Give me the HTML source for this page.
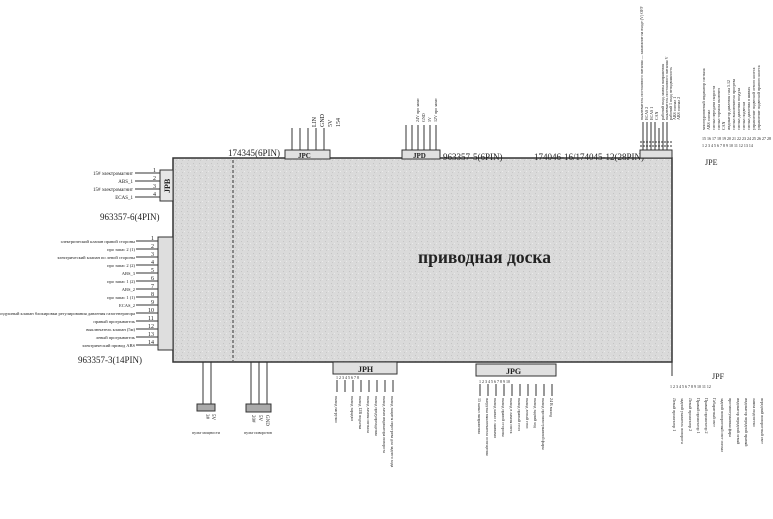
<!DOCTYPE html>
<html><head><meta charset="utf-8"><style>
html,body{margin:0;padding:0;background:#fff;width:773px;height:519px;overflow:hidden}
svg text{font-family:"Liberation Serif",serif;fill:#222}
</style></head><body>
<svg width="773" height="519" viewBox="0 0 773 519" xmlns="http://www.w3.org/2000/svg">
<defs>
<pattern id="p" width="6" height="6" patternUnits="userSpaceOnUse"><rect width="6" height="6" fill="#dadada"/><rect x="1" y="1" width="1" height="1" fill="#c4c4c4"/><rect x="4" y="3" width="1" height="1" fill="#eaeaea"/><rect x="2" y="4" width="1" height="1" fill="#c8c8c8"/></pattern>
</defs>
<!-- board -->
<rect x="173" y="158" width="499" height="204" fill="url(#p)" stroke="#333" stroke-width="1.5"/>
<line x1="233" y1="160" x2="233" y2="361" stroke="#333" stroke-dasharray="3,2"/>
<line x1="672" y1="362" x2="672" y2="376" stroke="#333"/>
<text x="418" y="263" font-size="17.5" font-weight="bold">приводная доска</text>

<!-- JPB -->
<rect x="160" y="170" width="13" height="31" fill="#e6e6e6" stroke="#333"/>
<text x="170" y="193" font-size="8" transform="rotate(-90 170 193)" font-weight="bold">JPB</text>
<g stroke="#333"><line x1="135" y1="173" x2="160" y2="173"/><line x1="135" y1="181" x2="160" y2="181"/><line x1="135" y1="189" x2="160" y2="189"/><line x1="135" y1="197" x2="160" y2="197"/></g>
<g font-size="5" text-anchor="end">
<text x="133" y="175">15# электромагнит</text><text x="133" y="183">ABS_1</text><text x="133" y="191">15# электромагнит</text><text x="133" y="199">ECAS_1</text></g>
<g font-size="6"><text x="153" y="172">1</text><text x="153" y="180">2</text><text x="153" y="188">3</text><text x="153" y="196">4</text></g>
<text x="100" y="220" font-size="9">963357-6(4PIN)</text>

<!-- 14 pin -->
<rect x="158" y="237" width="15" height="113" fill="#dedede" stroke="#333"/>
<g stroke="#333">
<line x1="136" y1="241" x2="158" y2="241"/><line x1="136" y1="249" x2="158" y2="249"/><line x1="136" y1="257" x2="158" y2="257"/><line x1="136" y1="265" x2="158" y2="265"/><line x1="136" y1="273" x2="158" y2="273"/><line x1="136" y1="281" x2="158" y2="281"/><line x1="136" y1="289" x2="158" y2="289"/><line x1="136" y1="297" x2="158" y2="297"/><line x1="136" y1="305" x2="158" y2="305"/><line x1="136" y1="313" x2="158" y2="313"/><line x1="136" y1="321" x2="158" y2="321"/><line x1="136" y1="329" x2="158" y2="329"/><line x1="136" y1="337" x2="158" y2="337"/><line x1="136" y1="345" x2="158" y2="345"/></g>
<g font-size="4.5" text-anchor="end">
<text x="135" y="243">электрический клапан правой стороны</text><text x="135" y="251">про запас 2 (1)</text><text x="135" y="259">электрический клапан по левой стороны</text><text x="135" y="267">про запас 2 (2)</text><text x="135" y="275">ABS_3</text><text x="135" y="283">про запас 1 (2)</text><text x="135" y="291">ABS_2</text><text x="135" y="299">про запас 1 (1)</text><text x="135" y="307">ECAS_2</text><text x="135" y="315">воздушный клапан блокировки регулирования давления газогенератора</text><text x="135" y="323">правый прогрыватель</text><text x="135" y="331">выключатель клапан (5м)</text><text x="135" y="339">левый прогрыватель</text><text x="135" y="347">электрический привод ABS</text></g>
<g font-size="6"><text x="151" y="240">1</text><text x="151" y="248">2</text><text x="151" y="256">3</text><text x="151" y="264">4</text><text x="151" y="272">5</text><text x="151" y="280">6</text><text x="151" y="288">7</text><text x="151" y="296">8</text><text x="151" y="304">9</text><text x="148" y="312">10</text><text x="148" y="320">11</text><text x="148" y="328">12</text><text x="148" y="336">13</text><text x="148" y="344">14</text></g>
<text x="78" y="363" font-size="9">963357-3(14PIN)</text>

<!-- JPC -->
<rect x="285" y="150" width="45" height="9" fill="#e0e0e0" stroke="#333"/>
<text x="298" y="158" font-size="7" font-weight="bold">JPC</text>
<text x="228" y="156" font-size="9">174345(6PIN)</text>
<g stroke="#333"><line x1="292" y1="128" x2="292" y2="150"/><line x1="300" y1="128" x2="300" y2="150"/><line x1="308" y1="128" x2="308" y2="150"/><line x1="316" y1="128" x2="316" y2="150"/><line x1="324" y1="128" x2="324" y2="150"/></g>
<g font-size="6"><text x="316" y="127" transform="rotate(-90 316 127)">LIN</text><text x="324" y="127" transform="rotate(-90 324 127)">GND</text><text x="332" y="127" transform="rotate(-90 332 127)">5V</text><text x="340" y="127" transform="rotate(-90 340 127)">154</text></g>

<!-- JPD -->
<rect x="402" y="150" width="38" height="9" fill="#e0e0e0" stroke="#333"/>
<text x="413" y="158" font-size="7" font-weight="bold">JPD</text>
<text x="443" y="160" font-size="9">963357-5(6PIN)</text>
<text x="534" y="160" font-size="9">174046-16/174045-12(28PIN)</text>
<g stroke="#333"><line x1="406" y1="125" x2="406" y2="150"/><line x1="412" y1="125" x2="412" y2="150"/><line x1="418" y1="125" x2="418" y2="150"/><line x1="424" y1="125" x2="424" y2="150"/><line x1="430" y1="125" x2="430" y2="150"/><line x1="436" y1="125" x2="436" y2="150"/></g>
<g font-size="4"><text x="419" y="122" transform="rotate(-90 419 122)">24V про запас</text><text x="425" y="122" transform="rotate(-90 425 122)">GND</text><text x="431" y="122" transform="rotate(-90 431 122)">5V</text><text x="437" y="122" transform="rotate(-90 437 122)">12V про запас</text></g>

<!-- JPE -->
<rect x="640" y="150" width="32" height="8" fill="#e0e0e0" stroke="#333"/>
<text x="705" y="165" font-size="8">JPE</text>
<g stroke="#333"><line x1="643" y1="122" x2="643" y2="150"/><line x1="647" y1="122" x2="647" y2="150"/><line x1="651" y1="122" x2="651" y2="150"/><line x1="655" y1="122" x2="655" y2="150"/><line x1="659" y1="128" x2="659" y2="150"/><line x1="663" y1="122" x2="663" y2="150"/><line x1="667" y1="122" x2="667" y2="150"/><line x1="640" y1="142" x2="672" y2="142" stroke-dasharray="2,1"/><line x1="640" y1="146" x2="672" y2="146" stroke-dasharray="2,1"/></g>
<g font-size="4"><text x="643" y="120" transform="rotate(-90 643 120)">выключатель постоянного питания — зажигание на входе (V) OFF</text><text x="648" y="120" transform="rotate(-90 648 120)">ECAS 2</text><text x="653" y="120" transform="rotate(-90 653 120)">ECAS 1</text><text x="658" y="120" transform="rotate(-90 658 120)">CAN</text><text x="664" y="120" transform="rotate(-90 664 120)">рабочий вход лампы напряжения</text><text x="668" y="120" transform="rotate(-90 668 120)">выключатель постоянного питания V</text><text x="672" y="120" transform="rotate(-90 672 120)">рабочий 1 вход неподвижность</text><text x="676" y="120" transform="rotate(-90 676 120)">ABS сигнал 1</text><text x="680" y="120" transform="rotate(-90 680 120)">ABS сигнал 2</text></g>
<g font-size="4"><text x="705" y="130" transform="rotate(-90 705 130)">многоуровневый индикатор сигнала</text><text x="710" y="130" transform="rotate(-90 710 130)">ABS сигнал</text><text x="715" y="130" transform="rotate(-90 715 130)">сигнал передачи скорости</text><text x="720" y="130" transform="rotate(-90 720 130)">сигнал тормоза включен</text><text x="725" y="130" transform="rotate(-90 725 130)">CAN</text><text x="730" y="130" transform="rotate(-90 730 130)">индикатор давления газа 5.12</text><text x="735" y="130" transform="rotate(-90 735 130)">сигнал выключателя прогрева</text><text x="740" y="130" transform="rotate(-90 740 130)">сигнал давления воздуха</text><text x="745" y="130" transform="rotate(-90 745 130)">сигнал подвески</text><text x="750" y="130" transform="rotate(-90 750 130)">сигнал давления в шинах</text><text x="755" y="130" transform="rotate(-90 755 130)">управление подвеской левого колеса</text><text x="760" y="130" transform="rotate(-90 760 130)">управление подвеской правого колеса</text></g>
<g font-size="4"><text x="702" y="147">1 2 3 4 5 6 7 8 9 10 11 12 13 14</text><text x="702" y="140">15 16 17 18 19 20 21 22 23 24 25 26 27 28</text></g>

<!-- bottom left -->
<g stroke="#333"><line x1="203" y1="362" x2="203" y2="404"/><line x1="211" y1="362" x2="211" y2="404"/><line x1="251" y1="362" x2="251" y2="404"/><line x1="259" y1="362" x2="259" y2="404"/><line x1="267" y1="362" x2="267" y2="404"/></g>
<rect x="197" y="404" width="18" height="7" fill="#aaa" stroke="#333"/>
<rect x="246" y="404" width="25" height="8" fill="#aaa" stroke="#333"/>
<g font-size="5"><text x="206" y="414" transform="rotate(90 206 414)">3#</text><text x="212" y="414" transform="rotate(90 212 414)">5V</text><text x="252" y="415" transform="rotate(90 252 415)">20#</text><text x="259" y="415" transform="rotate(90 259 415)">5V</text><text x="266" y="415" transform="rotate(90 266 415)">GND</text></g>
<text x="192" y="434" font-size="4">пульт мощности</text><text x="244" y="434" font-size="4">пульт поворотов</text>

<!-- JPH -->
<rect x="333" y="362" width="64" height="12" fill="#e0e0e0" stroke="#333"/>
<text x="358" y="372" font-size="8" font-weight="bold">JPH</text>
<g stroke="#333"><line x1="337" y1="380" x2="337" y2="392"/><line x1="345" y1="380" x2="345" y2="392"/><line x1="353" y1="380" x2="353" y2="392"/><line x1="361" y1="380" x2="361" y2="392"/><line x1="369" y1="380" x2="369" y2="392"/><line x1="377" y1="380" x2="377" y2="392"/><line x1="385" y1="380" x2="385" y2="392"/><line x1="393" y1="380" x2="393" y2="392"/></g>
<g font-size="4"><text x="335" y="396" transform="rotate(90 335 396)">выход нагрузки</text><text x="351" y="396" transform="rotate(90 351 396)">выход зарядки</text><text x="359" y="396" transform="rotate(90 359 396)">выход 12В подъема</text><text x="367" y="396" transform="rotate(90 367 396)">выход лампы сигнала</text><text x="375" y="396" transform="rotate(90 375 396)">выход предупреждения</text><text x="383" y="396" transform="rotate(90 383 396)">выход ламп индикатора поворота</text><text x="391" y="396" transform="rotate(90 391 396)">выход защиты перегрева для заднего хода</text></g>
<g font-size="4"><text x="336" y="379">1 2 3 4 5 6 7 8</text></g>

<!-- JPG -->
<rect x="476" y="364" width="80" height="12" fill="#e0e0e0" stroke="#333"/>
<text x="506" y="374" font-size="8" font-weight="bold">JPG</text>
<g stroke="#333"><line x1="480" y1="384" x2="480" y2="396"/><line x1="488" y1="384" x2="488" y2="396"/><line x1="496" y1="384" x2="496" y2="396"/><line x1="504" y1="384" x2="504" y2="396"/><line x1="512" y1="384" x2="512" y2="396"/><line x1="520" y1="384" x2="520" y2="396"/><line x1="528" y1="384" x2="528" y2="396"/><line x1="536" y1="384" x2="536" y2="396"/><line x1="544" y1="384" x2="544" y2="396"/><line x1="552" y1="384" x2="552" y2="396"/></g>
<g font-size="4"><text x="478" y="398" transform="rotate(90 478 398)">15 канал напряжения</text><text x="486" y="398" transform="rotate(90 486 398)">нагрузка выключателя освещения</text><text x="494" y="398" transform="rotate(90 494 398)">выход канал с лампами</text><text x="502" y="398" transform="rotate(90 502 398)">выход правой стороны</text><text x="510" y="398" transform="rotate(90 510 398)">выход в лампы света</text><text x="518" y="398" transform="rotate(90 518 398)">выход правый стоп</text><text x="526" y="398" transform="rotate(90 526 398)">выход левый стоп</text><text x="534" y="398" transform="rotate(90 534 398)">выход задний ход</text><text x="542" y="398" transform="rotate(90 542 398)">выход противотуманной фары</text><text x="550" y="398" transform="rotate(90 550 398)">24 В выход</text></g>
<g font-size="4"><text x="479" y="383">1 2 3 4 5 6 7 8 9 10</text></g>

<!-- JPF -->
<text x="712" y="379" font-size="8">JPF</text>
<g font-size="4"><text x="670" y="388">1 2 3 4 5 6 7 8 9 10 11 12</text></g>
<g font-size="4">
<text x="673" y="398" transform="rotate(90 673 398)">Левый прожектор 1</text><text x="681" y="398" transform="rotate(90 681 398)">задний указатель поворота</text><text x="689" y="398" transform="rotate(90 689 398)">Левый прожектор 2</text><text x="697" y="398" transform="rotate(90 697 398)">Правый прожектор 1</text><text x="705" y="398" transform="rotate(90 705 398)">Правый прожектор 2</text><text x="713" y="398" transform="rotate(90 713 398)">Габаритный свет</text><text x="721" y="398" transform="rotate(90 721 398)">задний поворотный свет сигнал</text><text x="729" y="398" transform="rotate(90 729 398)">противотуманная фара</text><text x="737" y="398" transform="rotate(90 737 398)">индикатор передний левый</text><text x="745" y="398" transform="rotate(90 745 398)">индикатор передний правый</text><text x="753" y="398" transform="rotate(90 753 398)">лампа подсветки</text><text x="761" y="398" transform="rotate(90 761 398)">передний поворотный свет</text></g>
</svg>
</body></html>
